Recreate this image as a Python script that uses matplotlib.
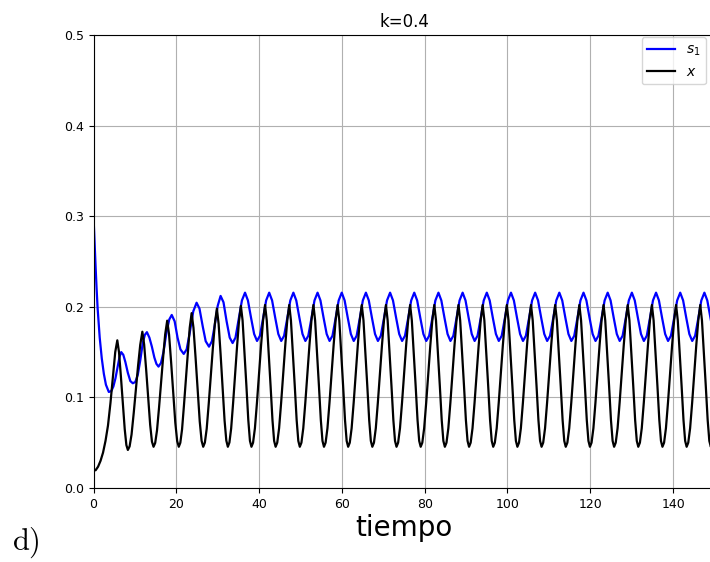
import matplotlib
matplotlib.use("Agg")
import matplotlib.pyplot as plt

# ---- data ----
title = "k=0.4"
x_label = "tiempo"
panel_label = r"$\mathrm{d)}$"
x_ticks = [0, 20, 40, 60, 80, 100, 120, 140]
y_ticks = [0.0, 0.1, 0.2, 0.3, 0.4, 0.5]

# s1 (blue) : time, value
s1_t = [0.0, 0.25, 0.5, 0.75, 1.0, 1.5, 2.0, 2.5, 3.0, 3.7, 4.3, 4.8, 5.3, 5.8, 6.3, 6.7,
        7.2, 7.7, 8.3, 8.9, 9.5, 10.1, 10.7, 11.3, 11.9, 12.4, 12.9, 13.5, 14.1, 14.7,
        15.2, 15.7, 16.3, 16.9, 17.6, 18.3, 18.9, 19.6, 20.3, 21.0, 21.8, 22.5, 23.2,
        24.1, 24.9, 25.6, 26.4, 27.1, 27.9, 28.6, 29.3, 30.0, 30.7, 31.4, 32.15, 32.9,
        33.6, 34.3, 35.1, 35.85,
        36.60, 37.30, 38.05, 38.80, 39.50, 40.20, 40.95, 41.70,
        42.44, 43.14, 43.89, 44.64, 45.34, 46.04, 46.79, 47.54,
        48.28, 48.98, 49.73, 50.48, 51.18, 51.88, 52.63, 53.38,
        54.12, 54.82, 55.57, 56.32, 57.02, 57.72, 58.47, 59.22,
        59.96, 60.66, 61.41, 62.16, 62.86, 63.56, 64.31, 65.06,
        65.80, 66.50, 67.25, 68.00, 68.70, 69.40, 70.15, 70.90,
        71.64, 72.34, 73.09, 73.84, 74.54, 75.24, 75.99, 76.74,
        77.48, 78.18, 78.93, 79.68, 80.38, 81.08, 81.83, 82.58,
        83.32, 84.02, 84.77, 85.52, 86.22, 86.92, 87.67, 88.42,
        89.16, 89.86, 90.61, 91.36, 92.06, 92.76, 93.51, 94.26,
        95.00, 95.70, 96.45, 97.20, 97.90, 98.60, 99.35, 100.10,
        100.84, 101.54, 102.29, 103.04, 103.74, 104.44, 105.19, 105.94,
        106.68, 107.38, 108.13, 108.88, 109.58, 110.28, 111.03, 111.78,
        112.52, 113.22, 113.97, 114.72, 115.42, 116.12, 116.87, 117.62,
        118.36, 119.06, 119.81, 120.56, 121.26, 121.96, 122.71, 123.46,
        124.20, 124.90, 125.65, 126.40, 127.10, 127.80, 128.55, 129.30,
        130.04, 130.74, 131.49, 132.24, 132.94, 133.64, 134.39, 135.14,
        135.88, 136.58, 137.33, 138.08, 138.78, 139.48, 140.23, 140.98,
        141.72, 142.42, 143.17, 143.92, 144.62, 145.32, 146.07, 146.82,
        147.56, 148.26, 149.01, 149.76]
s1_v = [0.300, 0.272, 0.245, 0.220, 0.198, 0.166, 0.143, 0.126, 0.114, 0.106, 0.107, 0.112,
        0.121, 0.133, 0.145, 0.150, 0.147, 0.139, 0.127, 0.118, 0.1156, 0.117, 0.125, 0.141,
        0.160, 0.169, 0.172, 0.166, 0.156, 0.144, 0.137, 0.134, 0.138, 0.150, 0.171, 0.186,
        0.191, 0.184, 0.166, 0.153, 0.148, 0.153, 0.170, 0.195, 0.2045, 0.198, 0.178, 0.162,
        0.156, 0.162, 0.180, 0.201, 0.212, 0.205, 0.184, 0.166, 0.160, 0.166, 0.187, 0.207,
        0.2156, 0.207, 0.188, 0.170, 0.1623, 0.168, 0.187, 0.207,   # 36.60
        0.2156, 0.207, 0.188, 0.170, 0.1623, 0.168, 0.187, 0.207,   # 42.44
        0.2156, 0.207, 0.188, 0.170, 0.1623, 0.168, 0.187, 0.207,   # 48.28
        0.2156, 0.207, 0.188, 0.170, 0.1623, 0.168, 0.187, 0.207,   # 54.12
        0.2156, 0.207, 0.188, 0.170, 0.1623, 0.168, 0.187, 0.207,   # 59.96
        0.2156, 0.207, 0.188, 0.170, 0.1623, 0.168, 0.187, 0.207,   # 65.80
        0.2156, 0.207, 0.188, 0.170, 0.1623, 0.168, 0.187, 0.207,   # 71.64
        0.2156, 0.207, 0.188, 0.170, 0.1623, 0.168, 0.187, 0.207,   # 77.48
        0.2156, 0.207, 0.188, 0.170, 0.1623, 0.168, 0.187, 0.207,   # 83.32
        0.2156, 0.207, 0.188, 0.170, 0.1623, 0.168, 0.187, 0.207,   # 89.16
        0.2156, 0.207, 0.188, 0.170, 0.1623, 0.168, 0.187, 0.207,   # 95.00
        0.2156, 0.207, 0.188, 0.170, 0.1623, 0.168, 0.187, 0.207,   # 100.84
        0.2156, 0.207, 0.188, 0.170, 0.1623, 0.168, 0.187, 0.207,   # 106.68
        0.2156, 0.207, 0.188, 0.170, 0.1623, 0.168, 0.187, 0.207,   # 112.52
        0.2156, 0.207, 0.188, 0.170, 0.1623, 0.168, 0.187, 0.207,   # 118.36
        0.2156, 0.207, 0.188, 0.170, 0.1623, 0.168, 0.187, 0.207,   # 124.20
        0.2156, 0.207, 0.188, 0.170, 0.1623, 0.168, 0.187, 0.207,   # 130.04
        0.2156, 0.207, 0.188, 0.170, 0.1623, 0.168, 0.187, 0.207,   # 135.88
        0.2156, 0.207, 0.188, 0.170, 0.1623, 0.168, 0.187, 0.207,   # 141.72
        0.2156, 0.207, 0.188, 0.170]                                # 147.56

# x (black) : time, value
x_t = [0.0, 0.5, 1.1, 1.7, 2.3, 2.9, 3.5, 4.1, 4.7, 5.25, 5.75,
       6.16, 6.62, 7.08, 7.54, 7.94, 8.3,
       8.72, 9.19, 9.71, 10.24, 10.76, 11.29, 11.8,
       12.23, 12.72, 13.2, 13.69, 14.12, 14.5,
       14.9, 15.34, 15.83, 16.33, 16.82, 17.31, 17.8,
       18.25, 18.75, 19.26, 19.76, 20.21, 20.6,
       20.97, 21.39, 21.85, 22.32, 22.78, 23.24, 23.7,
       24.15, 24.65, 25.16, 25.66, 26.11, 26.5,
       26.9, 27.34, 27.83, 28.33, 28.82, 29.31, 29.8,
       30.22, 30.7, 31.18, 31.66, 32.08, 32.45,
       32.83, 33.25, 33.72, 34.2, 34.67, 35.14,
       35.60, 36.01, 36.47, 36.93, 37.39, 37.79, 38.15, 38.54, 38.99, 39.48, 39.97, 40.47, 40.96,
       41.44, 41.85, 42.31, 42.77, 43.23, 43.63, 43.99, 44.38, 44.83, 45.32, 45.81, 46.31, 46.80,
       47.28, 47.69, 48.15, 48.61, 49.07, 49.47, 49.83, 50.22, 50.67, 51.16, 51.65, 52.15, 52.64,
       53.12, 53.53, 53.99, 54.45, 54.91, 55.31, 55.67, 56.06, 56.51, 57.00, 57.49, 57.99, 58.48,
       58.96, 59.37, 59.83, 60.29, 60.75, 61.15, 61.51, 61.90, 62.35, 62.84, 63.33, 63.83, 64.32,
       64.80, 65.21, 65.67, 66.13, 66.59, 66.99, 67.35, 67.74, 68.19, 68.68, 69.17, 69.67, 70.16,
       70.64, 71.05, 71.51, 71.97, 72.43, 72.83, 73.19, 73.58, 74.03, 74.52, 75.01, 75.51, 76.00,
       76.48, 76.89, 77.35, 77.81, 78.27, 78.67, 79.03, 79.42, 79.87, 80.36, 80.85, 81.35, 81.84,
       82.32, 82.73, 83.19, 83.65, 84.11, 84.51, 84.87, 85.26, 85.71, 86.20, 86.69, 87.19, 87.68,
       88.16, 88.57, 89.03, 89.49, 89.95, 90.35, 90.71, 91.10, 91.55, 92.04, 92.53, 93.03, 93.52,
       94.00, 94.41, 94.87, 95.33, 95.79, 96.19, 96.55, 96.94, 97.39, 97.88, 98.37, 98.87, 99.36,
       99.84, 100.25, 100.71, 101.17, 101.63, 102.03, 102.39, 102.78, 103.23, 103.72, 104.21, 104.71, 105.20,
       105.68, 106.09, 106.55, 107.01, 107.47, 107.87, 108.23, 108.62, 109.07, 109.56, 110.05, 110.55, 111.04,
       111.52, 111.93, 112.39, 112.85, 113.31, 113.71, 114.07, 114.46, 114.91, 115.40, 115.89, 116.39, 116.88,
       117.36, 117.77, 118.23, 118.69, 119.15, 119.55, 119.91, 120.30, 120.75, 121.24, 121.73, 122.23, 122.72,
       123.20, 123.61, 124.07, 124.53, 124.99, 125.39, 125.75, 126.14, 126.59, 127.08, 127.57, 128.07, 128.56,
       129.04, 129.45, 129.91, 130.37, 130.83, 131.23, 131.59, 131.98, 132.43, 132.92, 133.41, 133.91, 134.40,
       134.88, 135.29, 135.75, 136.21, 136.67, 137.07, 137.43, 137.82, 138.27, 138.76, 139.25, 139.75, 140.24,
       140.72, 141.13, 141.59, 142.05, 142.51, 142.91, 143.27, 143.66, 144.11, 144.60, 145.09, 145.59, 146.08,
       146.56, 146.97, 147.43, 147.89, 148.35, 148.75, 149.11, 149.50, 149.95]
x_v = [0.021, 0.0195, 0.0235, 0.030, 0.039, 0.052, 0.069, 0.094, 0.123, 0.150, 0.163,
       0.150, 0.123, 0.094, 0.065, 0.0474, 0.042,
       0.0459, 0.059, 0.0825, 0.1086, 0.1347, 0.1581, 0.1725,
       0.1585, 0.1306, 0.100, 0.0696, 0.0512, 0.0455,
       0.0497, 0.0636, 0.0887, 0.1165, 0.1443, 0.1694, 0.1847,
       0.1694, 0.1388, 0.1054, 0.072, 0.0518, 0.0455,
       0.0499, 0.0647, 0.0912, 0.1207, 0.1502, 0.1768, 0.193,
       0.1768, 0.1443, 0.1089, 0.0735, 0.0521, 0.0455,
       0.0501, 0.0653, 0.0928, 0.1233, 0.1538, 0.1812, 0.198,
       0.1812, 0.1477, 0.1111, 0.0745, 0.0524, 0.0455,
       0.0502, 0.0657, 0.0937, 0.1248, 0.1559, 0.1839,
       0.201, 0.185, 0.150, 0.113, 0.075, 0.052, 0.0455, 0.050, 0.066, 0.094, 0.125, 0.157, 0.185,  # 35.60
       0.202, 0.185, 0.150, 0.113, 0.075, 0.052, 0.0455, 0.050, 0.066, 0.094, 0.125, 0.157, 0.185,  # 41.44
       0.202, 0.185, 0.150, 0.113, 0.075, 0.052, 0.0455, 0.050, 0.066, 0.094, 0.125, 0.157, 0.185,  # 47.28
       0.202, 0.185, 0.150, 0.113, 0.075, 0.052, 0.0455, 0.050, 0.066, 0.094, 0.125, 0.157, 0.185,  # 53.12
       0.202, 0.185, 0.150, 0.113, 0.075, 0.052, 0.0455, 0.050, 0.066, 0.094, 0.125, 0.157, 0.185,  # 58.96
       0.202, 0.185, 0.150, 0.113, 0.075, 0.052, 0.0455, 0.050, 0.066, 0.094, 0.125, 0.157, 0.185,  # 64.80
       0.202, 0.185, 0.150, 0.113, 0.075, 0.052, 0.0455, 0.050, 0.066, 0.094, 0.125, 0.157, 0.185,  # 70.64
       0.202, 0.185, 0.150, 0.113, 0.075, 0.052, 0.0455, 0.050, 0.066, 0.094, 0.125, 0.157, 0.185,  # 76.48
       0.202, 0.185, 0.150, 0.113, 0.075, 0.052, 0.0455, 0.050, 0.066, 0.094, 0.125, 0.157, 0.185,  # 82.32
       0.202, 0.185, 0.150, 0.113, 0.075, 0.052, 0.0455, 0.050, 0.066, 0.094, 0.125, 0.157, 0.185,  # 88.16
       0.202, 0.185, 0.150, 0.113, 0.075, 0.052, 0.0455, 0.050, 0.066, 0.094, 0.125, 0.157, 0.185,  # 94.00
       0.202, 0.185, 0.150, 0.113, 0.075, 0.052, 0.0455, 0.050, 0.066, 0.094, 0.125, 0.157, 0.185,  # 99.84
       0.202, 0.185, 0.150, 0.113, 0.075, 0.052, 0.0455, 0.050, 0.066, 0.094, 0.125, 0.157, 0.185,  # 105.68
       0.202, 0.185, 0.150, 0.113, 0.075, 0.052, 0.0455, 0.050, 0.066, 0.094, 0.125, 0.157, 0.185,  # 111.52
       0.202, 0.185, 0.150, 0.113, 0.075, 0.052, 0.0455, 0.050, 0.066, 0.094, 0.125, 0.157, 0.185,  # 117.36
       0.202, 0.185, 0.150, 0.113, 0.075, 0.052, 0.0455, 0.050, 0.066, 0.094, 0.125, 0.157, 0.185,  # 123.20
       0.202, 0.185, 0.150, 0.113, 0.075, 0.052, 0.0455, 0.050, 0.066, 0.094, 0.125, 0.157, 0.185,  # 129.04
       0.202, 0.185, 0.150, 0.113, 0.075, 0.052, 0.0455, 0.050, 0.066, 0.094, 0.125, 0.157, 0.185,  # 134.88
       0.202, 0.185, 0.150, 0.113, 0.075, 0.052, 0.0455, 0.050, 0.066, 0.094, 0.125, 0.157, 0.185,  # 140.72
       0.202, 0.185, 0.150, 0.113, 0.075, 0.052, 0.0455, 0.050, 0.066]                             # 146.56

series_labels = ["$s_1$", "$x$"]
series_colors = ["#0000ff", "#000000"]

# ---- figure ----
W, H = 710, 562
fig = plt.figure(figsize=(W / 100, H / 100), dpi=100)
left_px, right_px, top_px, bottom_px = 93.5, 714.5, 35, 488
ax = fig.add_axes([left_px / W, 1 - bottom_px / H,
                   (right_px - left_px) / W, (bottom_px - top_px) / H])

ax.plot(s1_t, s1_v, color=series_colors[0], lw=1.6, label=series_labels[0])
ax.plot(x_t, x_v, color=series_colors[1], lw=1.6, label=series_labels[1])

ax.set_xlim(0, 150)
ax.set_ylim(0, 0.5)
ax.set_xticks(x_ticks)
ax.set_yticks(y_ticks)
ax.set_yticklabels([f"{v:.1f}" for v in y_ticks])
ax.tick_params(labelsize=9)
ax.grid(True, color='#b0b0b0', lw=0.8)
ax.set_axisbelow(True)
ax.set_title(title, fontsize=12)
ax.set_xlabel(x_label, fontsize=20, labelpad=2)
ax.legend(loc='upper right', fontsize=10, borderaxespad=0,
          bbox_to_anchor=((706 - left_px) / (right_px - left_px),
                          (bottom_px - 37) / (bottom_px - top_px)))

fig.text(12 / W, 1 - 550 / H, panel_label, fontsize=22, va='baseline', ha='left',
         math_fontfamily='cm')

fig.savefig("out.png", dpi=100)
